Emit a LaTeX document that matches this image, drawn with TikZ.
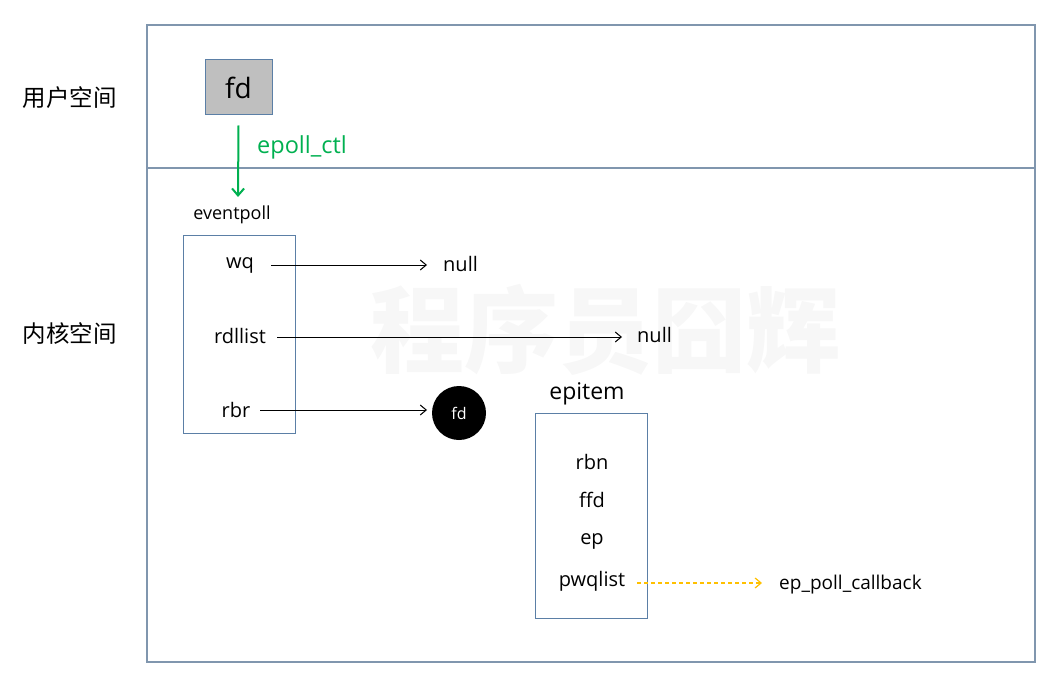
\documentclass[tikz,border=0pt]{standalone}
\usepackage{fontspec}
\setmainfont{Open Sans}
\newfontfamily\cjk{Noto Sans CJK SC}
\usetikzlibrary{arrows.meta}
\definecolor{frameblue}{HTML}{8096AE}
\definecolor{boxblue}{HTML}{5B7FA6}
\definecolor{ctlgreen}{HTML}{00B050}
\definecolor{cbyellow}{HTML}{FFC000}
\definecolor{fdgray}{HTML}{BFBFBF}
\tikzset{
  lbl/.style={inner sep=0pt, font=\fontsize{20}{22}\selectfont},
  zone/.style={inner sep=0pt, font=\cjk\fontsize{23.5}{25}\selectfont},
  ptr/.style={-{Straight Barb[length=6pt,width=10pt]}, line width=1pt, black},
  structbox/.style={draw=boxblue, line width=1pt}
}
\begin{document}
\begin{tikzpicture}[x=1pt,y=-1pt]
\useasboundingbox (0,0) rectangle (1060,674);
% watermark
\node[inner sep=0pt, text=black!3, font=\cjk\bfseries\fontsize{94}{96}\selectfont] (wm) at (605,330) {程序员囧辉};
% frames
\draw[frameblue, line width=1.2pt] (147,25) rectangle (1035,662);
\coordinate (divl) at (147,168);
\coordinate (divr) at (1035,168);
\draw[frameblue, line width=1.2pt] (divl) -- (divr);
\node[zone] (user) at (70,98) {用户空间};
\node[zone] (kern) at (70,334) {内核空间};
% user fd
\node[draw=boxblue, fill=fdgray, line width=1pt, minimum width=67pt, minimum height=55pt, inner sep=0pt, font=\fontsize{28}{30}\selectfont] (ufd) at (238.5,87.5) {fd};
\coordinate (ctlend) at (238,197);
\draw[ctlgreen, line width=2pt, -{Straight Barb[length=7pt,width=12pt]}] ([yshift=-10pt]ufd.south) -- (ctlend);
\node[inner sep=0pt, anchor=west, text=ctlgreen, font=\fontsize{23.5}{25}\selectfont] (ctl) at (257,147) {epoll\_ctl};
% eventpoll
\node[lbl, font=\fontsize{18}{20}\selectfont] (eplabel) at (232,215) {eventpoll};
\node[structbox, minimum width=112pt, minimum height=198pt, inner sep=0pt] (ep) at (239,334) {};
\node[lbl] (wq) at (240,265) {wq};
\node[lbl] (rdl) at (240,336) {rdllist};
\node[lbl] (rbr) at (236,410) {rbr};
\node[lbl, anchor=west] (null1) at (443,264) {null};
\node[lbl, anchor=west] (null2) at (637,335) {null};
\node[circle, fill=black, minimum size=54pt, inner sep=0pt, text=white, font=\fontsize{16}{18}\selectfont] (cfd) at (459,413) {fd};
\coordinate (wqs) at (271,265);
\coordinate (wqe) at (427,265);
\coordinate (rds) at (277,337);
\coordinate (rde) at (622,337);
\coordinate (rbs) at (260,410);
\coordinate (rbe) at (427,410);
\draw[ptr] (wqs) -- (wqe);
\draw[ptr] (rds) -- (rde);
\draw[ptr] (rbs) -- (rbe);
% epitem
\node[lbl, font=\fontsize{23}{25}\selectfont] (eilabel) at (587,394) {epitem};
\node[structbox, minimum width=112pt, minimum height=205pt, inner sep=0pt] (ei) at (591,515.5) {};
\node[lbl] (rbn) at (592,462) {rbn};
\node[lbl] (ffd) at (592,500) {ffd};
\node[lbl] (epf) at (592,541) {ep};
\node[lbl] (pwq) at (592,581) {pwqlist};
\node[lbl, anchor=west, font=\fontsize{19}{21}\selectfont] (cb) at (779,585) {ep\_poll\_callback};
\coordinate (cbs) at (637,583);
\coordinate (cbe) at (762,583);
\draw[cbyellow, line width=1.2pt, dash pattern=on 4pt off 3pt, -{Straight Barb[length=6pt,width=10pt]}] (cbs) -- (cbe);
\end{tikzpicture}
\end{document}
